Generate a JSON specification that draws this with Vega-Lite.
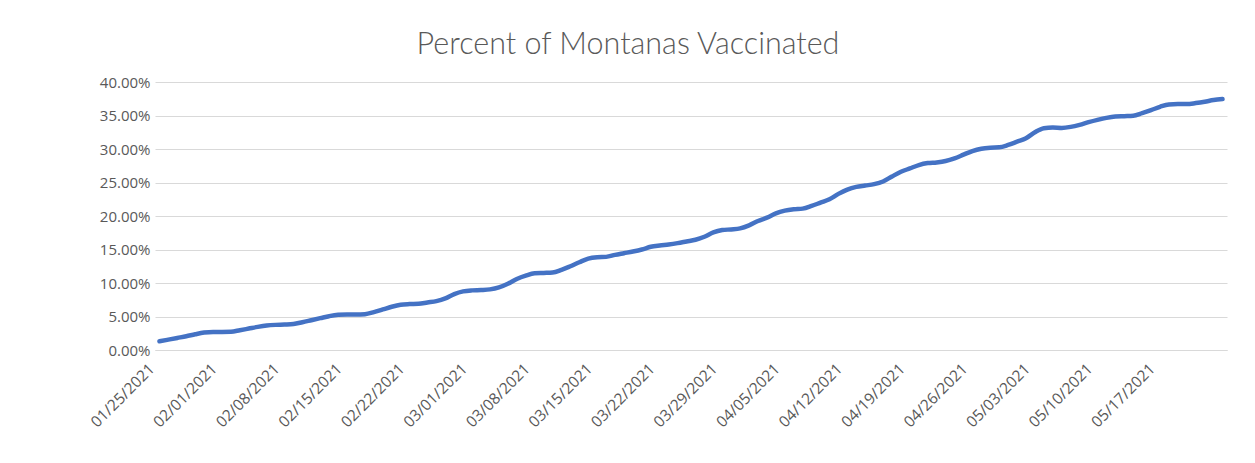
{
  "$schema": "https://vega.github.io/schema/vega-lite/v6.json",
  "autosize": {"type": "none"},
  "width": 1072,
  "height": 268,
  "padding": {"left": 155, "top": 82, "right": 28, "bottom": 113},
  "background": "white",
  "title": {
    "text": "Percent of Montanas Vaccinated",
    "font": "Lato",
    "fontSize": 30.5,
    "fontWeight": 300,
    "color": "#595959",
    "anchor": "middle",
    "dx": -63,
    "offset": 15
  },
  "config": {
    "view": {"stroke": null},
    "axis": {"labelFont": "Open Sans", "labelColor": "#595959", "labelFontSize": 15}
  },
  "data": {
    "values": [
      {"date": "2021-01-25T00:00:00", "pct": 0.0130},
      {"date": "2021-01-26T00:00:00", "pct": 0.0155},
      {"date": "2021-01-27T00:00:00", "pct": 0.0180},
      {"date": "2021-01-28T00:00:00", "pct": 0.0205},
      {"date": "2021-01-29T00:00:00", "pct": 0.0235},
      {"date": "2021-01-30T00:00:00", "pct": 0.0260},
      {"date": "2021-01-31T00:00:00", "pct": 0.0270},
      {"date": "2021-02-01T00:00:00", "pct": 0.0270},
      {"date": "2021-02-02T00:00:00", "pct": 0.0272},
      {"date": "2021-02-03T00:00:00", "pct": 0.0295},
      {"date": "2021-02-04T00:00:00", "pct": 0.0320},
      {"date": "2021-02-05T00:00:00", "pct": 0.0345},
      {"date": "2021-02-06T00:00:00", "pct": 0.0365},
      {"date": "2021-02-07T00:00:00", "pct": 0.0375},
      {"date": "2021-02-08T00:00:00", "pct": 0.0380},
      {"date": "2021-02-09T00:00:00", "pct": 0.0388},
      {"date": "2021-02-10T00:00:00", "pct": 0.0415},
      {"date": "2021-02-11T00:00:00", "pct": 0.0445},
      {"date": "2021-02-12T00:00:00", "pct": 0.0475},
      {"date": "2021-02-13T00:00:00", "pct": 0.0505},
      {"date": "2021-02-14T00:00:00", "pct": 0.0525},
      {"date": "2021-02-15T00:00:00", "pct": 0.0530},
      {"date": "2021-02-16T00:00:00", "pct": 0.0530},
      {"date": "2021-02-17T00:00:00", "pct": 0.0535},
      {"date": "2021-02-18T00:00:00", "pct": 0.0565},
      {"date": "2021-02-19T00:00:00", "pct": 0.0605},
      {"date": "2021-02-20T00:00:00", "pct": 0.0645},
      {"date": "2021-02-21T00:00:00", "pct": 0.0675},
      {"date": "2021-02-22T00:00:00", "pct": 0.0685},
      {"date": "2021-02-23T00:00:00", "pct": 0.0690},
      {"date": "2021-02-24T00:00:00", "pct": 0.0710},
      {"date": "2021-02-25T00:00:00", "pct": 0.0730},
      {"date": "2021-02-26T00:00:00", "pct": 0.0770},
      {"date": "2021-02-27T00:00:00", "pct": 0.0835},
      {"date": "2021-02-28T00:00:00", "pct": 0.0875},
      {"date": "2021-03-01T00:00:00", "pct": 0.0890},
      {"date": "2021-03-02T00:00:00", "pct": 0.0895},
      {"date": "2021-03-03T00:00:00", "pct": 0.0905},
      {"date": "2021-03-04T00:00:00", "pct": 0.0935},
      {"date": "2021-03-05T00:00:00", "pct": 0.0990},
      {"date": "2021-03-06T00:00:00", "pct": 0.1060},
      {"date": "2021-03-07T00:00:00", "pct": 0.1110},
      {"date": "2021-03-08T00:00:00", "pct": 0.1145},
      {"date": "2021-03-09T00:00:00", "pct": 0.1150},
      {"date": "2021-03-10T00:00:00", "pct": 0.1155},
      {"date": "2021-03-11T00:00:00", "pct": 0.1195},
      {"date": "2021-03-12T00:00:00", "pct": 0.1250},
      {"date": "2021-03-13T00:00:00", "pct": 0.1310},
      {"date": "2021-03-14T00:00:00", "pct": 0.1365},
      {"date": "2021-03-15T00:00:00", "pct": 0.1385},
      {"date": "2021-03-16T00:00:00", "pct": 0.1390},
      {"date": "2021-03-17T00:00:00", "pct": 0.1420},
      {"date": "2021-03-18T00:00:00", "pct": 0.1445},
      {"date": "2021-03-19T00:00:00", "pct": 0.1470},
      {"date": "2021-03-20T00:00:00", "pct": 0.1500},
      {"date": "2021-03-21T00:00:00", "pct": 0.1540},
      {"date": "2021-03-22T00:00:00", "pct": 0.1560},
      {"date": "2021-03-23T00:00:00", "pct": 0.1575},
      {"date": "2021-03-24T00:00:00", "pct": 0.1595},
      {"date": "2021-03-25T00:00:00", "pct": 0.1620},
      {"date": "2021-03-26T00:00:00", "pct": 0.1645},
      {"date": "2021-03-27T00:00:00", "pct": 0.1690},
      {"date": "2021-03-28T00:00:00", "pct": 0.1755},
      {"date": "2021-03-29T00:00:00", "pct": 0.1790},
      {"date": "2021-03-30T00:00:00", "pct": 0.1800},
      {"date": "2021-03-31T00:00:00", "pct": 0.1815},
      {"date": "2021-04-01T00:00:00", "pct": 0.1860},
      {"date": "2021-04-02T00:00:00", "pct": 0.1925},
      {"date": "2021-04-03T00:00:00", "pct": 0.1975},
      {"date": "2021-04-04T00:00:00", "pct": 0.2040},
      {"date": "2021-04-05T00:00:00", "pct": 0.2080},
      {"date": "2021-04-06T00:00:00", "pct": 0.2100},
      {"date": "2021-04-07T00:00:00", "pct": 0.2110},
      {"date": "2021-04-08T00:00:00", "pct": 0.2150},
      {"date": "2021-04-09T00:00:00", "pct": 0.2200},
      {"date": "2021-04-10T00:00:00", "pct": 0.2250},
      {"date": "2021-04-11T00:00:00", "pct": 0.2330},
      {"date": "2021-04-12T00:00:00", "pct": 0.2395},
      {"date": "2021-04-13T00:00:00", "pct": 0.2435},
      {"date": "2021-04-14T00:00:00", "pct": 0.2455},
      {"date": "2021-04-15T00:00:00", "pct": 0.2475},
      {"date": "2021-04-16T00:00:00", "pct": 0.2515},
      {"date": "2021-04-17T00:00:00", "pct": 0.2590},
      {"date": "2021-04-18T00:00:00", "pct": 0.2660},
      {"date": "2021-04-19T00:00:00", "pct": 0.2710},
      {"date": "2021-04-20T00:00:00", "pct": 0.2760},
      {"date": "2021-04-21T00:00:00", "pct": 0.2790},
      {"date": "2021-04-22T00:00:00", "pct": 0.2800},
      {"date": "2021-04-23T00:00:00", "pct": 0.2820},
      {"date": "2021-04-24T00:00:00", "pct": 0.2860},
      {"date": "2021-04-25T00:00:00", "pct": 0.2915},
      {"date": "2021-04-26T00:00:00", "pct": 0.2970},
      {"date": "2021-04-27T00:00:00", "pct": 0.3005},
      {"date": "2021-04-28T00:00:00", "pct": 0.3020},
      {"date": "2021-04-29T00:00:00", "pct": 0.3025},
      {"date": "2021-04-30T00:00:00", "pct": 0.3060},
      {"date": "2021-05-01T00:00:00", "pct": 0.3110},
      {"date": "2021-05-02T00:00:00", "pct": 0.3160},
      {"date": "2021-05-03T00:00:00", "pct": 0.3250},
      {"date": "2021-05-04T00:00:00", "pct": 0.3310},
      {"date": "2021-05-05T00:00:00", "pct": 0.3320},
      {"date": "2021-05-06T00:00:00", "pct": 0.3315},
      {"date": "2021-05-07T00:00:00", "pct": 0.3330},
      {"date": "2021-05-08T00:00:00", "pct": 0.3360},
      {"date": "2021-05-09T00:00:00", "pct": 0.3400},
      {"date": "2021-05-10T00:00:00", "pct": 0.3435},
      {"date": "2021-05-11T00:00:00", "pct": 0.3465},
      {"date": "2021-05-12T00:00:00", "pct": 0.3485},
      {"date": "2021-05-13T00:00:00", "pct": 0.3490},
      {"date": "2021-05-14T00:00:00", "pct": 0.3495},
      {"date": "2021-05-15T00:00:00", "pct": 0.3535},
      {"date": "2021-05-16T00:00:00", "pct": 0.3580},
      {"date": "2021-05-17T00:00:00", "pct": 0.3630},
      {"date": "2021-05-18T00:00:00", "pct": 0.3665},
      {"date": "2021-05-19T00:00:00", "pct": 0.3670},
      {"date": "2021-05-20T00:00:00", "pct": 0.3670},
      {"date": "2021-05-21T00:00:00", "pct": 0.3685},
      {"date": "2021-05-22T00:00:00", "pct": 0.3705},
      {"date": "2021-05-23T00:00:00", "pct": 0.3730},
      {"date": "2021-05-24T00:00:00", "pct": 0.3745}
    ]
  },
  "mark": {"type": "line", "color": "#4472C4", "strokeWidth": 4.5, "interpolate": "monotone", "strokeCap": "round", "strokeJoin": "round"},
  "encoding": {
    "x": {
      "field": "date",
      "type": "temporal",
      "title": null,
      "scale": {"domain": [
        {"year": 2021, "month": 1, "date": 24, "hours": 12},
        {"year": 2021, "month": 5, "date": 24, "hours": 12}
      ]},
      "axis": {
        "values": [
          {"year": 2021, "month": 1, "date": 25},
          {"year": 2021, "month": 2, "date": 1},
          {"year": 2021, "month": 2, "date": 8},
          {"year": 2021, "month": 2, "date": 15},
          {"year": 2021, "month": 2, "date": 22},
          {"year": 2021, "month": 3, "date": 1},
          {"year": 2021, "month": 3, "date": 8},
          {"year": 2021, "month": 3, "date": 15},
          {"year": 2021, "month": 3, "date": 22},
          {"year": 2021, "month": 3, "date": 29},
          {"year": 2021, "month": 4, "date": 5},
          {"year": 2021, "month": 4, "date": 12},
          {"year": 2021, "month": 4, "date": 19},
          {"year": 2021, "month": 4, "date": 26},
          {"year": 2021, "month": 5, "date": 3},
          {"year": 2021, "month": 5, "date": 10},
          {"year": 2021, "month": 5, "date": 17}
        ],
        "format": "%m/%d/%Y",
        "labelAngle": -45,
        "labelAlign": "right",
        "labelBaseline": "middle",
        "labelPadding": 16,
        "labelOffset": -8,
        "labelOverlap": false,
        "labelBound": false,
        "labelFontSize": 15.5,
        "ticks": false,
        "grid": false,
        "domain": true,
        "domainColor": "#d9d9d9",
        "domainWidth": 1
      }
    },
    "y": {
      "field": "pct",
      "type": "quantitative",
      "title": null,
      "scale": {"domain": [0, 0.4], "nice": false},
      "axis": {
        "values": [0, 0.05, 0.1, 0.15, 0.2, 0.25, 0.3, 0.35, 0.4],
        "format": ".2%",
        "ticks": false,
        "domain": false,
        "grid": true,
        "gridColor": "#d9d9d9",
        "gridWidth": 1,
        "labelPadding": 5
      }
    }
  }
}
